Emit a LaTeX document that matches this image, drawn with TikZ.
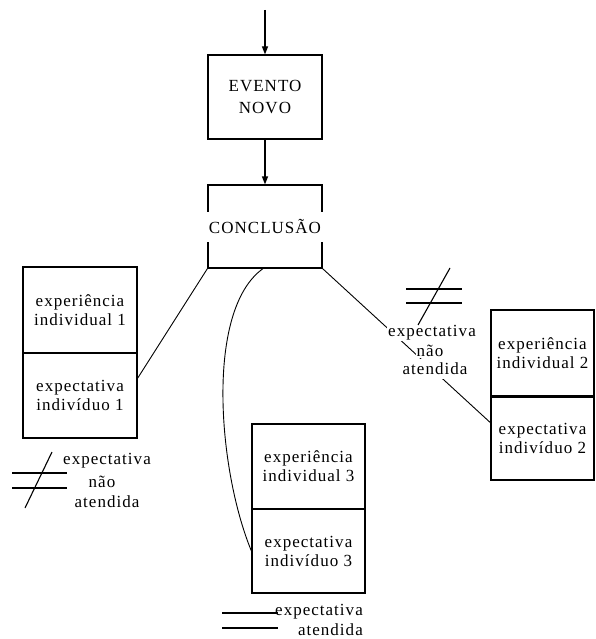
\documentclass[tikz,border=0pt]{standalone}
\usepackage{fontspec}
\setmainfont{Liberation Serif}
\newfontfamily\pixfont[LetterSpace=6]{Liberation Serif}
\usetikzlibrary{arrows.meta,calc}
\begin{document}
\begin{tikzpicture}[x=1pt,y=-1pt,
  txt/.style={font=\pixfont\fontsize{17}{19}\selectfont, align=center},
  box/.style={txt, draw, line width=1.2pt, minimum width=114pt, inner sep=0pt},
  lbl/.style={txt, inner sep=1pt},
  conn/.style={line width=0.9pt},
  arr/.style={line width=1.2pt, -{Triangle[length=8pt,width=6pt]}},
  sym/.style={line width=1.1pt}]
\useasboundingbox (0,0) rectangle (595,639);
% top chain
\coordinate (top) at (265,10);
\node[box, minimum height=84pt, font=\pixfont\fontsize{17}{22}\selectfont] (evento) at (265,97) {EVENTO\\NOVO};
\node[box, minimum height=83pt] (conc) at (265,226.5) {};
\draw[arr] (top) -- (evento);
\draw[arr] (evento) -- (conc);
% boxes
\node[box, minimum height=86pt] (e1) at (80,310) {experiência\\individual 1};
\node[box, minimum height=85pt] (x1) at (80,395.5) {expectativa\\indivíduo 1};
\node[box, minimum width=103pt, minimum height=86pt] (e2) at (542.5,353) {experiência\\individual 2};
\node[box, minimum width=103pt, minimum height=84pt] (x2) at (542.5,438) {expectativa\\indivíduo 2};
\draw[line width=2.5pt] (e2.south west) -- (e2.south east);
\node[box, minimum width=113pt, minimum height=85pt] (e3) at (308.5,466.5) {experiência\\individual 3};
\node[box, minimum width=113pt, minimum height=84pt] (x3) at (308.5,551) {expectativa\\indivíduo 3};
% connectors
\draw[conn] (conc.south west) -- ($(x1.north east)!0.3!(x1.south east)$);
\draw[conn] (conc.south east) -- ($(x2.north west)!0.32!(x2.south west)$);
\draw[conn] ($(conc.south)+(-2,0)$) .. controls (205,310) and (218,470) .. (x3.west);
% label over right connector
\node[lbl, fill=white] (l2a) at (432,333) {expectativa};
\node[lbl, fill=white] (l2b) at (430,351) {não};
\node[lbl, fill=white, inner ysep=4pt] (l2c) at (435,369) {atendida};
% CONCLUSAO text over the box border
\node[txt, fill=white, minimum width=118pt, minimum height=30pt, inner sep=0pt] (conclbl) at (conc.center) {CONCLUSÃO};
% legend left: not attended
\draw[sym] (52,452) -- (25,508);
\draw[sym] (12,473) -- (67,473);
\draw[sym] (12,488) -- (67,488);
\node[lbl] (l1a) at (107,461) {expectativa};
\node[lbl] (l1b) at (102,482) {não};
\node[lbl] (l1c) at (107,502) {atendida};
% legend right symbol
\draw[sym] (450,268) -- (418,325);
\draw[sym] (406,289) -- (462,289);
\draw[sym] (406,303) -- (462,303);
% legend bottom: attended
\draw[sym] (222,613) -- (278,613);
\draw[sym] (222,628) -- (278,628);
\node[lbl, anchor=east] (l3a) at (364,612) {expectativa};
\node[lbl, anchor=east] (l3b) at (364,630) {atendida};
\end{tikzpicture}
\end{document}
